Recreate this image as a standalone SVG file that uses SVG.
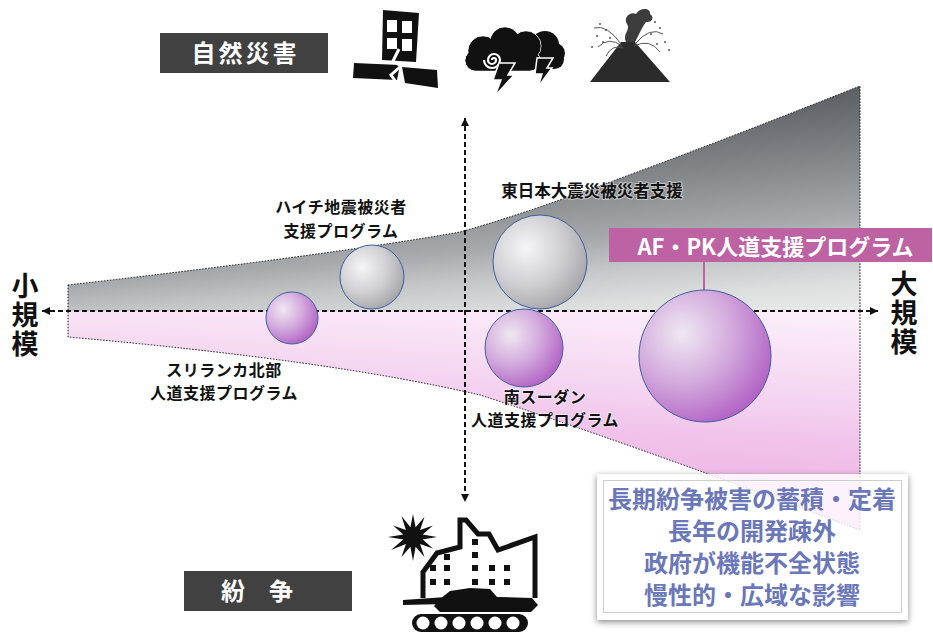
<svg xmlns="http://www.w3.org/2000/svg" width="933" height="635" viewBox="0 0 933 635">
  <style>
    .jp { font-family: "Noto Sans CJK JP", "Noto Sans CJK SC", sans-serif; font-weight: 700; }
    .lbl { font-size: 16.5px; fill: #111; text-anchor: middle; paint-order: stroke; stroke: #fff; stroke-width: 2; stroke-opacity: 0.5; stroke-linejoin: round; }
    .lbl2 { font-size: 16px; letter-spacing: 0.5px; }
    .scale { font-size: 27px; fill: #111; writing-mode: vertical-rl; letter-spacing: 2px; }
    .boxtxt { font-size: 24px; fill: #fff; text-anchor: middle; }
    .note { font-size: 24px; fill: #6a77b8; text-anchor: middle; }
    .axis { stroke: #111; stroke-width: 2; stroke-dasharray: 5 3; fill: none; }
    .edge { stroke: #111; stroke-width: 1; stroke-dasharray: 1.5 1.5; fill: none; }
    .ball { stroke: #3d5f9e; stroke-width: 1; }
    .ink { fill: #111; }
  </style>
  <defs>
    <linearGradient id="gGray" gradientUnits="userSpaceOnUse" x1="0" y1="160" x2="20" y2="388">
      <stop offset="0" stop-color="#5a5d61"/>
      <stop offset="0.32" stop-color="#84878a"/>
      <stop offset="0.57" stop-color="#a6a8ab"/>
      <stop offset="0.7" stop-color="#c3c5c7"/>
      <stop offset="0.85" stop-color="#dcdddd"/>
      <stop offset="1" stop-color="#ececec"/>
    </linearGradient>
    <linearGradient id="gPink" gradientUnits="userSpaceOnUse" x1="0" y1="259" x2="-13" y2="479">
      <stop offset="0" stop-color="#fcf0fb"/>
      <stop offset="0.22" stop-color="#f8e2f5"/>
      <stop offset="0.45" stop-color="#f4d2f0"/>
      <stop offset="0.6" stop-color="#f1c4eb"/>
      <stop offset="1" stop-color="#edade4"/>
    </linearGradient>
    <radialGradient id="ballGray" cx="0.35" cy="0.35" r="0.72">
      <stop offset="0" stop-color="#f5f5f7"/>
      <stop offset="0.55" stop-color="#cfcfd3"/>
      <stop offset="1" stop-color="#a3a3a8"/>
    </radialGradient>
    <radialGradient id="ballPink" cx="0.33" cy="0.33" r="0.75">
      <stop offset="0" stop-color="#efe8f2"/>
      <stop offset="0.5" stop-color="#d3aadd"/>
      <stop offset="1" stop-color="#b05fc3"/>
    </radialGradient>
    <marker id="arrow" viewBox="0 0 10 10" refX="10" refY="5" markerWidth="9" markerHeight="8" markerUnits="userSpaceOnUse" orient="auto-start-reverse">
      <path d="M0,0 L10,5 L0,10 Z" fill="#111"/>
    </marker>
    <filter id="soft" x="-10%" y="-10%" width="120%" height="130%">
      <feGaussianBlur stdDeviation="3"/>
    </filter>
    <mask id="cardHole" maskUnits="userSpaceOnUse" x="0" y="0" width="933" height="635">
      <rect x="0" y="0" width="933" height="635" fill="#fff"/>
      <rect x="597" y="474" width="311" height="146" fill="#000"/>
    </mask>
  </defs>

  <!-- scale funnel: disaster half above, conflict half below -->
  <g id="funnel">
    <path d="M68,311 L68,285 Q330,255 460,232 Q560,205 860,86 L860,311 Z" fill="url(#gGray)"/>
    <path d="M68,311 L860,311 L860,530 Q620,440 480,395 Q330,360 68,337 Z" fill="url(#gPink)"/>
    <path class="edge" d="M68,285 Q330,255 460,232 Q560,205 860,86 L860,530 Q620,440 480,395 Q330,360 68,337 Z"/>
  </g>

  <!-- axes and leader -->
  <g id="connectors">
    <line class="axis" x1="42" y1="311" x2="878" y2="311" marker-start="url(#arrow)" marker-end="url(#arrow)"/>
    <line class="axis" x1="465" y1="118" x2="465" y2="502" marker-start="url(#arrow)" marker-end="url(#arrow)"/>
    <line x1="704" y1="262" x2="704" y2="291" stroke="#bd63a3" stroke-width="2"/>
  </g>

  <!-- programmes -->
  <g id="srilanka">
    <circle class="ball" cx="292" cy="318" r="26" fill="url(#ballPink)"/>
    <text class="jp lbl lbl2" x="224" y="375.5">スリランカ北部</text>
    <text class="jp lbl lbl2" x="224" y="399">人道支援プログラム</text>
  </g>
  <g id="haiti">
    <circle class="ball" cx="372" cy="277" r="32" fill="url(#ballGray)"/>
    <text class="jp lbl lbl2" x="341" y="213">ハイチ地震被災者</text>
    <text class="jp lbl lbl2" x="341" y="236.5">支援プログラム</text>
  </g>
  <g id="tohoku">
    <circle class="ball" cx="540" cy="262" r="47" fill="url(#ballGray)"/>
    <text class="jp lbl" x="592" y="196.5">東日本大震災被災者支援</text>
  </g>
  <g id="southsudan">
    <circle class="ball" cx="524" cy="348" r="39" fill="url(#ballPink)"/>
    <text class="jp lbl lbl2" x="545" y="402.5">南スーダン</text>
    <text class="jp lbl lbl2" x="545" y="426">人道支援プログラム</text>
  </g>
  <g id="afpk">
    <circle class="ball" cx="705" cy="356" r="66" fill="url(#ballPink)"/>
    <rect x="609" y="228" width="323" height="34" fill="#bd63a3"/>
    <text class="jp" x="775.5" y="254.5" font-size="22" fill="#fff" text-anchor="middle">AF・PK人道支援プログラム</text>
  </g>

  <!-- scale labels -->
  <g id="small-scale">
    <text class="jp scale" x="25" y="272">小規模</text>
  </g>
  <g id="large-scale">
    <text class="jp scale" x="904" y="270">大規模</text>
  </g>

  <!-- category tags -->
  <g id="tag-disaster">
    <rect x="160" y="33" width="168" height="40" fill="#414141"/>
    <text class="jp boxtxt" x="245.5" y="62" letter-spacing="3">自然災害</text>
  </g>
  <g id="tag-conflict">
    <rect x="184" y="571" width="168" height="40" fill="#414141"/>
    <text class="jp boxtxt" x="257" y="600">紛　争</text>
  </g>

  <!-- earthquake icon -->
  <g id="icon-quake" class="ink">
    <path d="M383,10 L419,13 L416,62 L382,60 Z"/>
    <rect x="387" y="20" width="10" height="12" fill="#fff"/>
    <rect x="402" y="21" width="10" height="12" fill="#fff"/>
    <rect x="387" y="38" width="10" height="11" fill="#fff"/>
    <rect x="402" y="39" width="10" height="12" fill="#fff"/>
    <path d="M354,63 L400,65 L397,80 L353,78 Z"/>
    <path d="M402,67 L437,70 L438,88 L405,83 Z"/>
    <path d="M399,49 L393,61 L401,66 L391,75 L396,82" fill="none" stroke="#fff" stroke-width="3"/>
  </g>

  <!-- storm icon -->
  <g id="icon-storm" class="ink">
    <circle cx="545" cy="45" r="14"/>
    <circle cx="555" cy="53" r="10"/>
    <rect x="530" y="50" width="34" height="19" rx="9.5"/>
    <g stroke="#fff" stroke-width="1">
      <circle cx="483" cy="51" r="15"/>
      <circle cx="505" cy="42" r="15"/>
      <circle cx="526" cy="46" r="15"/>
      <rect x="465" y="50" width="75" height="21" rx="10.5"/>
    </g>
    <circle cx="483" cy="51" r="14.5"/>
    <circle cx="505" cy="42" r="14.5"/>
    <circle cx="526" cy="46" r="14.5"/>
    <rect x="465.5" y="50.5" width="74" height="20" rx="10"/>
    <path d="M492,60 A2,2 0 0 1 496,60 A4,4 0 0 1 488,60 A6,6 0 0 1 500,60 A8,8 0 0 1 484,60" fill="none" stroke="#fff" stroke-width="2.2"/>
    <path d="M499,63 L515,63 L508,75 L514,75 L495,96 L501,80 L493,80 Z" stroke="#fff" stroke-width="1.5"/>
    <path d="M537,58 L553,58 L547,68 L552,68 L538,87 L542,74 L535,74 Z" stroke="#fff" stroke-width="1.5"/>
  </g>

  <!-- volcano icon -->
  <g id="icon-volcano">
    <path d="M590,82 L670,82 L635,42 L621,42 Z" fill="#2b2b2b"/>
    <path d="M626,42 C622,34 631,30 627,24 C623,18 630,11 636,14 C640,7 651,8 650,14 C655,17 652,23 646,22 C642,27 640,33 635,42 Z" fill="#3c3c3c"/>
    <g fill="none" stroke="#555" stroke-width="1">
      <path d="M621,44 Q607,24 594,28"/>
      <path d="M622,46 Q609,36 598,47"/>
      <path d="M623,48 Q612,44 606,56"/>
      <path d="M635,44 Q650,26 663,34"/>
      <path d="M634,46 Q650,38 660,52"/>
    </g>
    <g fill="#555">
      <circle cx="600" cy="24" r="1"/><circle cx="606" cy="30" r="1"/><circle cx="597" cy="36" r="1"/>
      <circle cx="592" cy="47" r="1"/><circle cx="603" cy="42" r="1"/><circle cx="610" cy="38" r="1"/>
      <circle cx="655" cy="22" r="1"/><circle cx="660" cy="28" r="1"/><circle cx="651" cy="34" r="1"/>
      <circle cx="665" cy="42" r="1"/><circle cx="669" cy="50" r="1"/><circle cx="657" cy="44" r="1"/>
    </g>
  </g>

  <!-- war icon -->
  <g id="icon-war" class="ink">
    <path d="M413,514 L415.6,527.3 L424.5,517.1 L420.1,529.9 L432.9,525.5 L422.7,534.4 L437,537 L422.7,539.6 L432.9,548.5 L420.1,544.1 L424.5,556.9 L415.6,546.7 L413,561 L410.4,546.7 L401.5,556.9 L405.9,544.1 L391,550 L403.3,539.6 L388,537 L403.3,534.4 L393.1,525.5 L405.9,529.9 L401.5,516 L410.4,527.3 Z"/>
    <path d="M423,598 V572 L437,553 L460,547 V520 H466 L478,534 L489,534 L498,550 L535,537 V598" fill="none" stroke="#111" stroke-width="5"/>
    <rect x="430" y="565" width="6" height="6"/><rect x="430" y="579" width="6" height="6"/>
    <rect x="444" y="554" width="6" height="6"/><rect x="444" y="565" width="6" height="6"/><rect x="444" y="579" width="6" height="6"/>
    <rect x="472" y="539" width="6" height="6"/><rect x="472" y="552" width="6" height="6"/><rect x="472" y="565" width="6" height="6"/><rect x="472" y="579" width="6" height="6"/>
    <rect x="489" y="565" width="6" height="6"/><rect x="489" y="579" width="6" height="6"/>
    <rect x="504" y="565" width="6" height="6"/><rect x="504" y="579" width="6" height="6"/>
    <path d="M403,600 L446,597 L446,604 L403,605 Z"/>
    <path d="M440,599 L450,591 L470,588 L490,589 L497,597 L532,598 L538,605 L531,612 L440,612 L434,606 Z"/>
    <rect x="412" y="614" width="116" height="18" rx="9"/>
    <g fill="#fff">
      <circle cx="423" cy="623" r="6.5"/><circle cx="441" cy="623" r="6.5"/><circle cx="459" cy="623" r="6.5"/>
      <circle cx="477" cy="623" r="6.5"/><circle cx="495" cy="623" r="6.5"/><circle cx="513" cy="623" r="6.5"/>
    </g>
  </g>

  <!-- conflict characteristics card -->
  <g id="note">
    <rect x="597" y="476" width="311" height="146" fill="#555" filter="url(#soft)" mask="url(#cardHole)" opacity="0.7"/>
    <rect x="597" y="474" width="311" height="146" fill="#fff" fill-opacity="0.82"/>
    <rect x="603.5" y="480.5" width="298" height="132" fill="none" stroke="#cdcdcd" stroke-width="1"/>
    <text class="jp note" x="752" y="508">長期紛争被害の蓄積・定着</text>
    <text class="jp note" x="752" y="540">長年の開発疎外</text>
    <text class="jp note" x="752" y="572">政府が機能不全状態</text>
    <text class="jp note" x="752" y="604">慢性的・広域な影響</text>
  </g>
</svg>
